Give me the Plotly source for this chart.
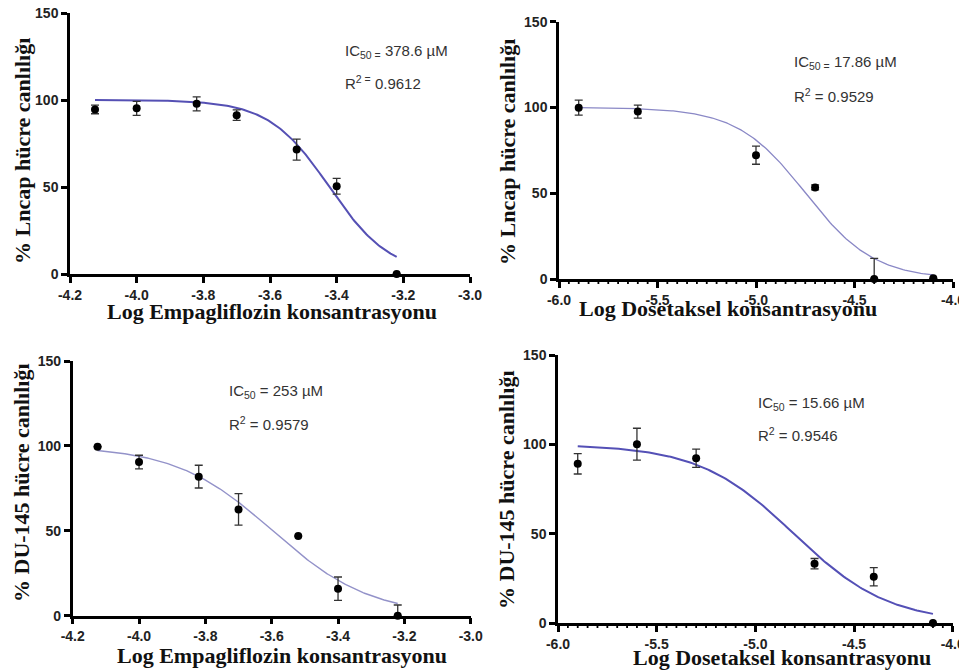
import numpy as np
import plotly.graph_objects as go

# ---------------- data ----------------
# Panel A: Lncap / Empagliflozin
empa_x = [-4.125, -4.0, -3.82, -3.70, -3.52, -3.40, -3.22]
lncap_empa_y = [94.6, 95.2, 97.8, 91.3, 71.5, 50.4, 0.0]
lncap_empa_err = [2.5, 4.0, 4.0, 3.0, 6.0, 4.5, 0.0]
lncap_empa_errm = [2.5, 4.0, 4.0, 3.0, 6.0, 4.5, 0.0]

# Panel B: Lncap / Dosetaksel
dose_x = [-5.9, -5.6, -5.0, -4.7, -4.4, -4.1]
lncap_dose_y = [99.9, 97.6, 72.2, 53.4, 0.0, 0.4]
lncap_dose_err = [4.4, 3.8, 5.3, 1.5, 12.0, 0.0]
lncap_dose_errm = [4.4, 3.8, 5.3, 1.5, 0.0, 0.0]

# Panel C: DU-145 / Empagliflozin
du_empa_y = [99.5, 90.5, 81.9, 62.6, 46.9, 15.9, 0.0]
du_empa_err = [0.0, 4.0, 6.7, 9.3, 0.0, 6.9, 6.3]
du_empa_errm = [0.0, 4.0, 6.7, 9.3, 0.0, 6.9, 0.0]

# Panel D: DU-145 / Dosetaksel
dose_x4 = [-5.9, -5.6, -5.3, -4.7, -4.4, -4.1]
du_dose_y = [89.1, 100.1, 92.2, 33.2, 25.9, 0.0]
du_dose_err = [5.7, 8.9, 5.1, 2.9, 5.1, 0.0]
du_dose_errm = [5.7, 8.9, 5.1, 2.9, 5.1, 0.0]

# fitted 4PL parameters (IC50 values from the chart, in M)
ic50_molar = [378.6e-6, 17.86e-6, 253e-6, 15.66e-6]
hill_slopes = [4.77, 2.5, 2.95, 1.8]
fit_x_start = [-4.125, -5.9, -4.125, -5.9]
fit_x_end = [-3.22, -4.1, -3.22, -4.1]

# tick labels
empa_ticks = [-4.2, -4.0, -3.8, -3.6, -3.4, -3.2, -3.0]
empa_tick_labels = ["-4.2", "-4.0", "-3.8", "-3.6", "-3.4", "-3.2", "-3.0"]
dose_ticks = [-6.0, -5.5, -5.0, -4.5, -4.0]
dose_tick_labels = ["-6.0", "-5.5", "-5.0", "-4.5", "-4.0"]
dose_minor_step = 0.05
y_ticks = [0, 50, 100, 150]
y_tick_labels = ["0", "50", "100", "150"]

ic_labels = ["IC<sub>50 =</sub> 378.6 µM", "IC<sub>50 =</sub> 17.86 µM",
             "IC<sub>50</sub> = 253 µM", "IC<sub>50</sub> = 15.66 µM"]
r2_labels = ["R<sup>2 =</sup> 0.9612", "R<sup>2</sup> = 0.9529",
             "R<sup>2</sup> = 0.9579", "R<sup>2</sup> = 0.9546"]
x_titles = ["Log Empagliflozin konsantrasyonu", "Log Dosetaksel konsantrasyonu",
            "Log Empagliflozin konsantrasyonu", "Log Dosetaksel konsantrasyonu"]
y_titles = ["% Lncap hücre canlılığı", "% Lncap hücre canlılığı",
            "% DU-145 hücre canlılığı", "% DU-145 hücre canlılığı"]
x_ranges = [[-4.2, -3.0], [-6.0, -4.0], [-4.2, -3.0], [-6.0, -4.0]]
x_tickvals = [empa_ticks, dose_ticks, empa_ticks, dose_ticks]
x_ticktexts = [empa_tick_labels, dose_tick_labels, empa_tick_labels, dose_tick_labels]
has_minor = [False, True, False, True]

panels = [
    (empa_x, lncap_empa_y, lncap_empa_err, lncap_empa_errm),
    (dose_x, lncap_dose_y, lncap_dose_err, lncap_dose_errm),
    (empa_x, du_empa_y, du_empa_err, du_empa_errm),
    (dose_x4, du_dose_y, du_dose_err, du_dose_errm),
]

# ---------------- layout geometry (screen pixels) ----------------
W, H = 967, 671
OFF = 8  # page body margin
px_boxes = [  # x0, x1, ytop, ybottom
    (70, 470, 13, 274),
    (559, 953, 21.7, 279),
    (72.7, 470.7, 361, 615.7),
    (558, 952.7, 355, 623),
]
line_colors = ["#5550b4", "#8a88c6", "#9392c9", "#5450b6"]
line_widths = [2.0, 1.3, 1.4, 2.0]
ic_pos = [(343, 52, 82), (792, 63, 95), (227, 391, 423), (756, 403, 434)]
xt_pos = [(272, 311), (728, 309), (282, 655), (782, 657)]
yt_pos = [(22, 151), (507, 152), (22, 483), (506, 490)]
MINOR_PX = 5      # minor tick length in pixels
MINOR_PAD = 8     # extra room below the axis for the minor-tick subplot


def fx(p):
    return (p - OFF) / W


def fy(p):
    return 1 - (p - OFF) / H


tickfont = dict(family="Liberation Sans", size=14, color="#222")

fig = go.Figure()
annotations = []
layout = {}
extra_y = 5

for i, (xs, ys, ep, em) in enumerate(panels):
    n = i + 1
    xa = "x" if n == 1 else f"x{n}"
    ya = "y" if n == 1 else f"y{n}"
    x0, x1, yt, yb = px_boxes[i]
    # fitted curve
    lx = np.linspace(fit_x_start[i], fit_x_end[i], 200)
    logic = np.log10(ic50_molar[i])
    ly = 100.0 / (1.0 + 10 ** ((lx - logic) * hill_slopes[i]))
    fig.add_trace(go.Scatter(x=lx, y=ly, mode="lines",
                             line=dict(color=line_colors[i], width=line_widths[i]),
                             xaxis=xa, yaxis=ya, showlegend=False, hoverinfo="skip"))
    fig.add_trace(go.Scatter(
        x=xs, y=ys, mode="markers",
        marker=dict(color="black", size=8),
        error_y=dict(type="data", array=ep, arrayminus=em, symmetric=False,
                     color="#333333", thickness=1.3, width=4),
        xaxis=xa, yaxis=ya, showlegend=False, cliponaxis=False))

    if has_minor[i]:
        # minor ticks every 0.05, drawn in a hidden y axis that extends below the x axis
        u = 150.0 / (yb - yt)  # data units per pixel
        yk = f"yaxis{extra_y}"
        layout[yk] = dict(domain=[fy(yb + MINOR_PAD), fy(yt)],
                          range=[-MINOR_PAD * u, 150], anchor=xa, visible=False,
                          automargin=False, showgrid=False, zeroline=False)
        lo, hi = x_ranges[i]
        nsteps = int(round((hi - lo) / dose_minor_step))
        majors = {round(v, 2) for v in x_tickvals[i]}
        mv = [round(lo + k * dose_minor_step, 2) for k in range(nsteps + 1)]
        mv = [v for v in mv if v not in majors]
        fig.add_trace(go.Scatter(
            x=mv, y=[0] * len(mv), mode="markers",
            marker=dict(size=1, color="rgba(0,0,0,0)"),
            error_y=dict(type="data", array=[0] * len(mv),
                         arrayminus=[MINOR_PX * u] * len(mv), symmetric=False,
                         color="black", thickness=1.8, width=0),
            xaxis=xa, yaxis=f"y{extra_y}", showlegend=False, hoverinfo="skip"))
        extra_y += 1

    axkey = "xaxis" if n == 1 else f"xaxis{n}"
    aykey = "yaxis" if n == 1 else f"yaxis{n}"
    layout[axkey] = dict(domain=[fx(x0), fx(x1)], range=x_ranges[i], anchor=ya,
                         automargin=False,
                         showline=True, linecolor="black", linewidth=2.5,
                         ticks="outside", ticklen=6, tickwidth=2.5, tickcolor="black",
                         tickmode="array", tickvals=x_tickvals[i],
                         ticktext=[f"<b>{t}</b>" for t in x_ticktexts[i]],
                         ticklabeloverflow="allow",
                         showgrid=False, zeroline=False, tickfont=tickfont)
    layout[aykey] = dict(domain=[fy(yb), fy(yt)], range=[0, 150], anchor=xa,
                         automargin=False,
                         showline=True, linecolor="black", linewidth=2.5,
                         ticks="outside", ticklen=6, tickwidth=2.5, tickcolor="black",
                         tickmode="array", tickvals=y_ticks,
                         ticktext=[f"<b>{t}</b>" for t in y_tick_labels],
                         ticklabeloverflow="allow",
                         showgrid=False, zeroline=False, tickfont=tickfont)

    ax_, ay1, ay2 = ic_pos[i]
    annotations.append(dict(x=fx(ax_), y=fy(ay1), xref="paper", yref="paper",
                            text=ic_labels[i], showarrow=False, xanchor="left", yanchor="middle",
                            font=dict(family="Liberation Sans", size=15, color="#333")))
    annotations.append(dict(x=fx(ax_), y=fy(ay2), xref="paper", yref="paper",
                            text=r2_labels[i], showarrow=False, xanchor="left", yanchor="middle",
                            font=dict(family="Liberation Sans", size=15, color="#333")))
    tx, ty = xt_pos[i]
    annotations.append(dict(x=fx(tx), y=fy(ty), xref="paper", yref="paper",
                            text=f"<b>{x_titles[i]}</b>", showarrow=False,
                            xanchor="center", yanchor="middle",
                            font=dict(family="Liberation Serif", size=22, color="#111")))
    yx, yy = yt_pos[i]
    annotations.append(dict(x=fx(yx), y=fy(yy), xref="paper", yref="paper",
                            text=f"<b>{y_titles[i]}</b>", showarrow=False,
                            xanchor="center", yanchor="middle", textangle=-90,
                            font=dict(family="Liberation Serif", size=22, color="#111")))

fig.update_layout(
    width=W, height=H, margin=dict(l=0, r=0, t=0, b=0, autoexpand=False),
    paper_bgcolor="white", plot_bgcolor="rgba(0,0,0,0)",
    annotations=annotations, **layout)

fig.write_html("out.html")
